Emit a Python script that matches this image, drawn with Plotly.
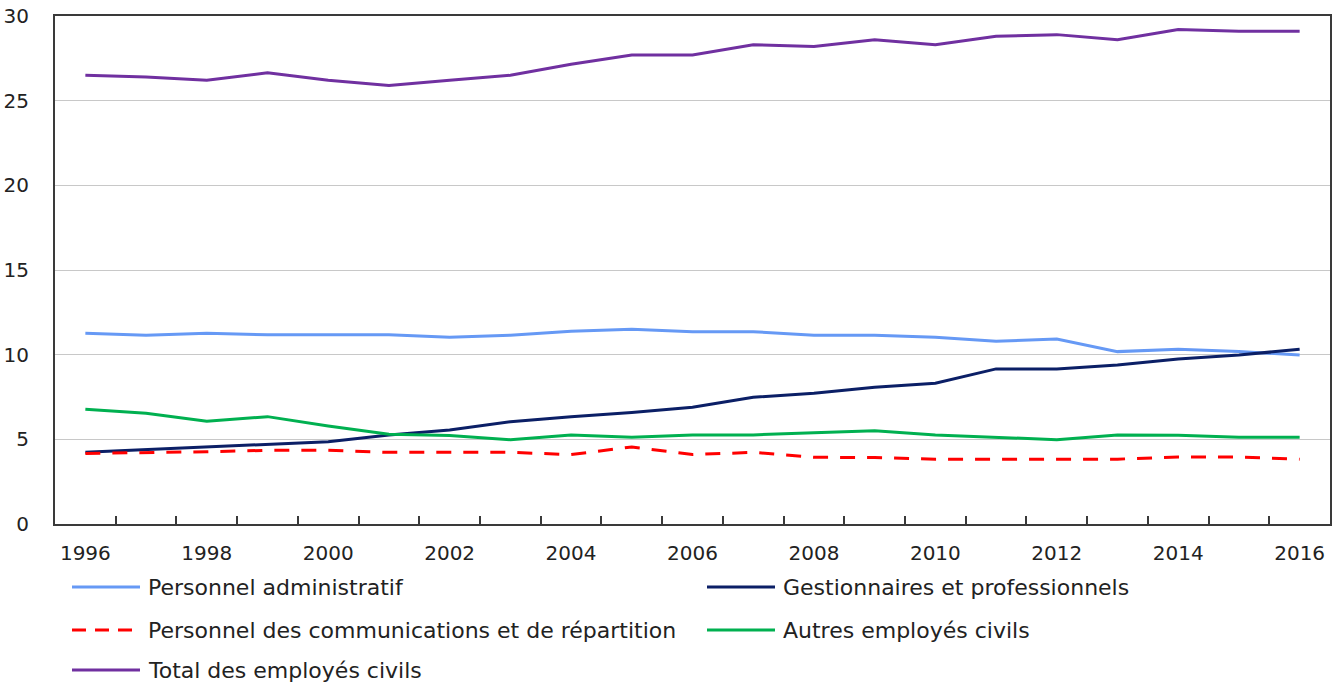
import plotly.graph_objects as go

years = list(range(1996, 2017))

personnel_administratif = [11.26, 11.15, 11.26, 11.18, 11.18, 11.18, 11.03, 11.15, 11.38, 11.50, 11.36,
                           11.36, 11.15, 11.15, 11.03, 10.79, 10.93, 10.18, 10.32, 10.18, 9.98]
gestionnaires = [4.23, 4.39, 4.57, 4.73, 4.86, 5.26, 5.55, 6.04, 6.34, 6.58, 6.89,
                 7.48, 7.72, 8.07, 8.31, 9.16, 9.16, 9.39, 9.75, 9.98, 10.32]
communications = [4.17, 4.21, 4.27, 4.35, 4.35, 4.23, 4.23, 4.23, 4.10, 4.55, 4.10,
                  4.23, 3.94, 3.92, 3.83, 3.83, 3.83, 3.83, 3.96, 3.96, 3.83]
autres = [6.77, 6.54, 6.07, 6.34, 5.79, 5.30, 5.22, 4.98, 5.26, 5.12, 5.26,
          5.26, 5.39, 5.50, 5.26, 5.10, 4.98, 5.26, 5.24, 5.12, 5.12]
total = [26.5, 26.4, 26.2, 26.65, 26.2, 25.9, 26.2, 26.5, 27.15, 27.7, 27.7,
         28.3, 28.2, 28.6, 28.3, 28.8, 28.9, 28.6, 29.2, 29.1, 29.1]

series = [
    ("Personnel administratif", personnel_administratif, "#6699F5", "solid"),
    ("Gestionnaires et professionnels", gestionnaires, "#0B1F66", "solid"),
    ("Personnel des communications et de répartition", communications, "#FF0000", "15px,12px"),
    ("Autres employés civils", autres, "#00B050", "solid"),
    ("Total des employés civils", total, "#7030A0", "solid"),
]

FONT = "DejaVu Sans"
TEXT = "#222222"

fig = go.Figure()
for name, vals, color, dash in series:
    fig.add_trace(go.Scatter(x=years, y=vals, mode="lines", name=name,
                             line=dict(color=color, width=3, dash=dash),
                             showlegend=False))

# Plot area in pixels, used to place the legend block below the axes
W, H = 1336, 683
L, R, T, B = 55, 6, 16, 159
pw, ph = W - L - R, H - T - B


def px_x(x):
    return (x - L) / pw


def px_y(y):
    return (H - B - y) / ph


legend_items = [
    (0, 0, series[0]), (1, 0, series[1]),
    (0, 1, series[2]), (1, 1, series[3]),
    (0, 2, series[4]),
]
col_x = [72, 707]
row_y = [587, 630, 670]
shapes = []
annotations = []
for col, row, (name, _, color, dash) in legend_items:
    x0 = col_x[col]
    y = row_y[row]
    shapes.append(dict(type="line", xref="paper", yref="paper",
                       x0=px_x(x0), x1=px_x(x0 + 68), y0=px_y(y), y1=px_y(y),
                       line=dict(color=color, width=3,
                                 dash="14px,9px" if dash != "solid" else "solid")))
    annotations.append(dict(xref="paper", yref="paper", x=px_x(x0 + 74), y=px_y(y),
                            text=name, showarrow=False, xanchor="left", yanchor="middle",
                            font=dict(family=FONT, size=22, color=TEXT)))

fig.update_layout(
    width=W, height=H,
    margin=dict(l=L, r=R, t=T, b=B, autoexpand=False),
    paper_bgcolor="white", plot_bgcolor="white",
    shapes=shapes, annotations=annotations,
    showlegend=False,
    font=dict(family=FONT, size=20, color=TEXT),
)
fig.update_xaxes(
    range=[1995.5, 2016.5],
    tickvals=list(range(1996, 2017, 2)),
    ticks="", showgrid=False, automargin=False,
    showline=True, linecolor="#3a3a3a", linewidth=2, mirror=True,
    ticklabelstandoff=10,
    tickfont=dict(family=FONT, size=20, color=TEXT),
    minor=dict(tickvals=[y + 0.5 for y in range(1996, 2016)], ticks="inside",
               ticklen=8, tickcolor="#3a3a3a", tickwidth=2, showgrid=False),
    zeroline=False,
)
fig.update_yaxes(
    range=[0, 30], dtick=5,
    showgrid=True, gridcolor="#C8C8C8", gridwidth=1, automargin=False,
    showline=True, linecolor="#3a3a3a", linewidth=2, mirror=True,
    ticks="", ticklabelstandoff=20,
    tickfont=dict(family=FONT, size=20, color=TEXT),
    zeroline=False,
)

fig.write_html("out.html")
